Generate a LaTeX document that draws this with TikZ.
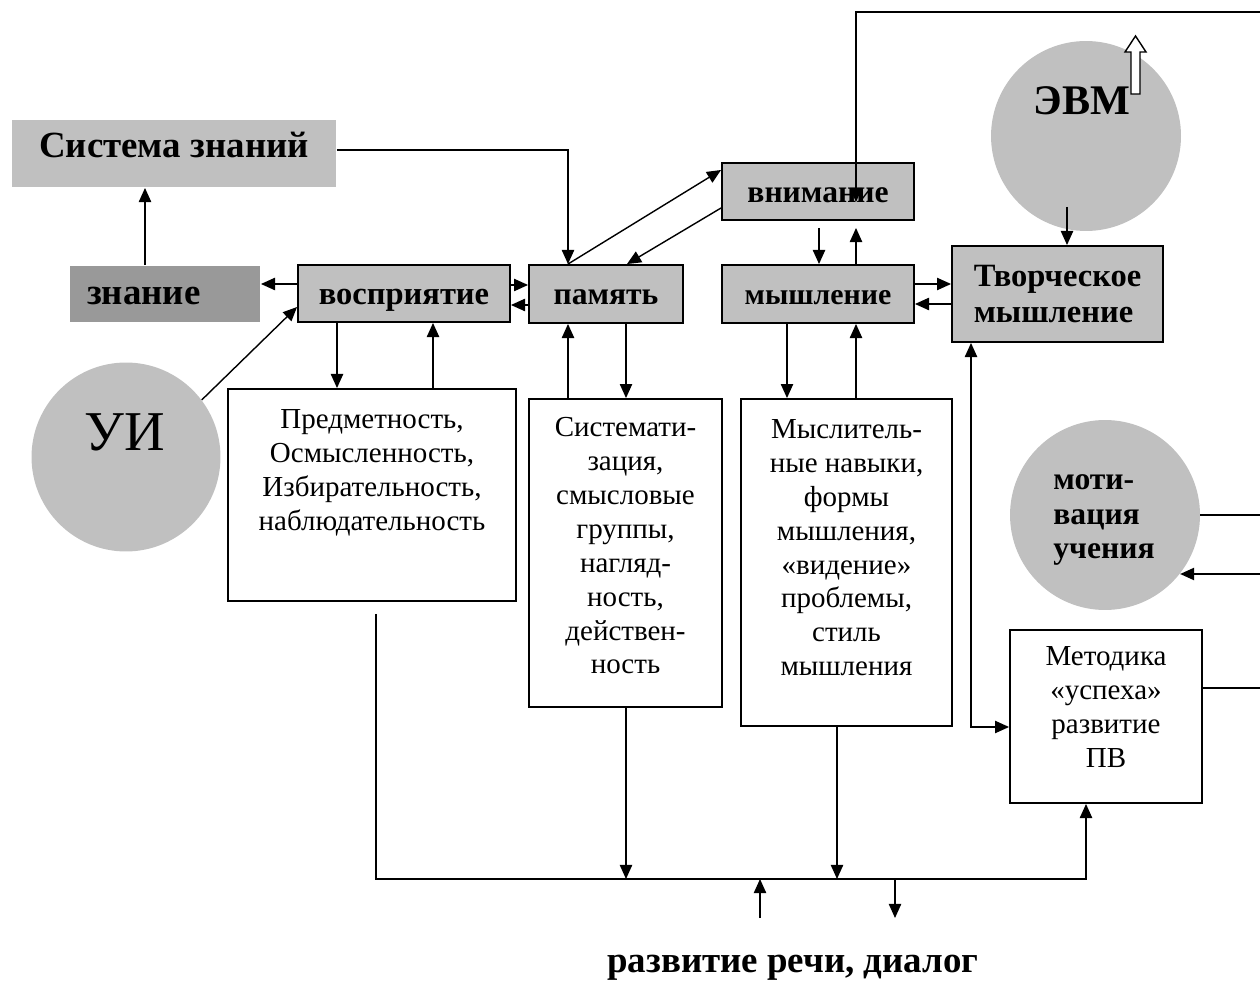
\documentclass[tikz,border=0pt]{standalone}
\usepackage{fontspec}
\setmainfont{Liberation Serif}
\usepackage{tikz}
\usetikzlibrary{arrows.meta,positioning}
\definecolor{silver}{HTML}{C0C0C0}
\definecolor{darksilver}{HTML}{999999}
\tikzset{
  blk/.style={draw,fill=silver,line width=1.1pt,inner sep=0pt,text height=13pt,text depth=0.5pt,
    font=\bfseries\fontsize{19}{21}\selectfont},
  tbox/.style={draw,line width=1.1pt,inner sep=0pt},
  txt/.style={align=center,inner sep=0pt,font=\fontsize{16.5}{19.3}\selectfont},
  disc/.style={circle,fill=silver,inner sep=0pt},
  arr/.style={-{Triangle[length=8pt,width=7pt]},line width=0.8pt},
  arrs/.style={{Triangle[length=8pt,width=7pt]}-{Triangle[length=8pt,width=7pt]},line width=0.8pt}
}

\begin{document}
\begin{tikzpicture}[x=0.02cm,y=-0.02cm]
  \useasboundingbox (0,0) rectangle (1260,982);
  % circles
  \node (ui) [disc,minimum size=3.78cm] at (126,457) {};
  \node (uit) [inner sep=0pt,font=\fontsize{32}{36}\selectfont] at (125,432) {УИ};
  \node (evm) [disc,minimum size=3.8cm] at (1086,136) {};
  \node (evmt) [inner sep=0pt,font=\bfseries\fontsize{24}{28}\selectfont] at (1082,101) {ЭВМ};
  \node (motiv) [disc,minimum size=3.8cm] at (1105,515) {};
  \node (mott) [inner sep=0pt,align=left,font=\bfseries\fontsize{18}{19.5}\selectfont] at (1104,520) {моти-\\вация\\учения};
  \draw [line width=0.8pt,fill=white] (1131,94) -- (1131,52) -- (1125,52) -- (1135.5,36)
    -- (1146,52) -- (1140,52) -- (1140,94) -- cycle;
  % gray boxes
  \node (sys) [blk,draw=none,minimum width=6.48cm,minimum height=1.34cm,text height=6pt,text depth=2pt,
    font=\bfseries\fontsize{21}{24}\selectfont] at (174,153.5) {Система знаний};
  \node (znan) [blk,draw=none,fill=darksilver,text width=3.12cm,inner xsep=0.34cm,align=left,minimum height=1.12cm,
    font=\bfseries\fontsize{21}{24}\selectfont] at (165,294) {знание};
  \node (vos) [blk,minimum width=4.24cm,minimum height=1.14cm,font=\bfseries\fontsize{18.5}{21}\selectfont] at (404,293.5) {восприятие};
  \node (pam) [blk,minimum width=3.08cm,minimum height=1.16cm,font=\bfseries\fontsize{18}{21}\selectfont] at (606,294) {память};
  \node (vnim) [blk,minimum width=3.84cm,minimum height=1.14cm,font=\bfseries\fontsize{18}{21}\selectfont] at (818,191.5) {внимание};
  \node (mysh) [blk,minimum width=3.84cm,minimum height=1.16cm,text height=12pt,
    font=\bfseries\fontsize{17}{20}\selectfont] at (818,294) {мышление};
  \node (tvor) [blk,align=left,minimum width=4.22cm,minimum height=1.92cm,text height=,text depth=,
    font=\bfseries\fontsize{18.5}{20.7}\selectfont] at (1057.5,294) {Творческое\\мышление};
  % text boxes
  \node (box1) [tbox,minimum width=5.76cm,minimum height=4.24cm] at (372,495) {};
  \node (box2) [tbox,minimum width=3.86cm,minimum height=6.16cm] at (625.5,553) {};
  \node (box3) [tbox,minimum width=4.22cm,minimum height=6.54cm] at (846.5,562.5) {};
  \node (meth) [tbox,minimum width=3.84cm,minimum height=3.46cm] at (1106,716.5) {};
  \node (b1t) [txt,below=0.42cm of box1.north] {Предметность,\\Осмысленность,\\Избирательность,\\наблюдательность};
  \node (b2t) [txt,below=0.38cm of box2.north] {Системати-\\зация,\\смысловые\\группы,\\нагляд-\\ность,\\действен-\\ность};
  \node (b3t) [txt,below=0.42cm of box3.north] {Мыслитель-\\ные навыки,\\формы\\мышления,\\«видение»\\проблемы,\\стиль\\мышления};
  \node (mt) [txt,below=0.34cm of meth.north] {Методика\\«успеха»\\развитие\\ПВ};
  \node (rech) [anchor=base,font=\bfseries\fontsize{21}{24}\selectfont] at (793,972) {развитие речи, диалог};
  % free ends of the connectors
  \coordinate (topr) at (1260,12);
  \coordinate (topin) at (856,202);
  \coordinate (bus) at (0,879);
  \coordinate (rin) at (760,918);
  \coordinate (rout) at (895,918);
  \coordinate (mback) at (1260,574);
  \coordinate (mright) at (1260,688);
  % upper row
  \draw [arr] (ui.37) -- (vos.west |- 0,307);
  \draw [arr] (vos.west |- 0,284) -- (znan.east |- 0,284);
  \draw [arr] (znan.north -| 145,0) -- (sys.south -| 145,0);
  \draw [arr] (sys.east |- 0,150) -| (pam.north -| 568,0);
  \draw [arr] (vos.east |- 0,285) -- (pam.west |- 0,285);
  \draw [arr] (pam.west |- 0,305) -- (vos.east |- 0,305);
  \draw [arr] (pam.north -| 568,0) -- (vnim.west |- 0,170);
  \draw [arr] (vnim.west |- 0,208) -- (pam.north -| 627,0);
  \draw [arr,shorten <=0.14cm] (vnim.south -| 819,0) -- (mysh.north -| 819,0);
  \draw [arr,shorten >=0.14cm] (mysh.north -| 856,0) -- (vnim.south -| 856,0);
  \draw [arr] (mysh.east |- 0,284) -- (tvor.west |- 0,284);
  \draw [arr] (tvor.west |- 0,304) -- (mysh.east |- 0,304);
  \draw [arr] ([shift={(-19,71)}]evm.center) -- (tvor.north -| 1067,0);
  \draw [arr] (topr) -| (topin);
  % down to the text boxes and back
  \draw [arr] (vos.south -| 337,0) -- (box1.north -| 337,0);
  \draw [arr] (box1.north -| 433,0) -- (vos.south -| 433,0);
  \draw [arr] (box2.north -| 568,0) -- (pam.south -| 568,0);
  \draw [arr] (pam.south -| 626,0) -- (box2.north -| 626,0);
  \draw [arr] (mysh.south -| 787,0) -- (box3.north -| 787,0);
  \draw [arr] (box3.north -| 856,0) -- (mysh.south -| 856,0);
  \draw [arrs] (tvor.south -| 971,0) |- (meth.west |- 0,727);
  % bottom line
  \draw [arr,shorten <=0.24cm] (box1.south -| 376,0) |- (bus -| 1086,0) -- (meth.south -| 1086,0);
  \draw [arr] (box2.south -| 626,0) -- (bus -| 626,0);
  \draw [arr] (box3.south -| 837,0) -- (bus -| 837,0);
  \draw [arr] (rin) -- (rin |- bus);
  \draw [arr] (rout |- bus) -- (rout);
  % right edge
  \draw [line width=0.8pt] (motiv.east) -- (motiv.east -| mright);
  \draw [arr] (mback) -- (motiv.-38 |- mback);
  \draw [line width=0.8pt] (meth.east |- mright) -- (mright);
\end{tikzpicture}
\end{document}
